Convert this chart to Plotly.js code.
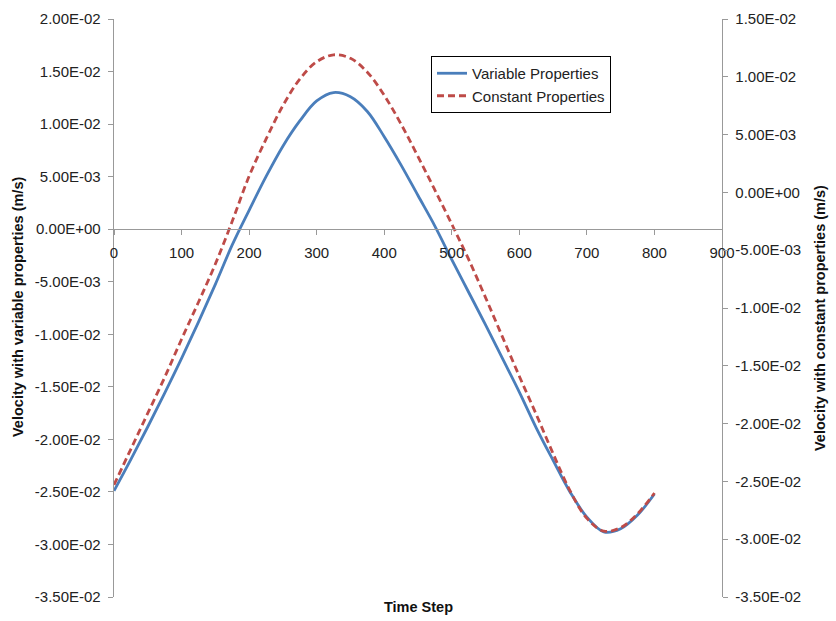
<!DOCTYPE html>
<html>
<head>
<meta charset="utf-8">
<script src="https://cdn.plot.ly/plotly-3.0.1.min.js"></script>
<style>html,body{margin:0;padding:0;background:#fff;}#chart{width:836px;height:621px;}</style>
</head>
<body>
<div id="chart"></div>
<script>
// Data
const timeStep = [0,25,50,75,100,125,150,175,200,225,250,275,300,325,350,375,400,425,450,475,500,525,550,575,600,625,650,675,700,725,750,775,800];
const variableProps = [-0.0249,-0.0219,-0.0188,-0.0156,-0.0123,-0.00885,-0.00525,-0.0015,0.0018,0.0050,0.0079,0.0103,0.0122,0.0130,0.0126,0.0112,0.0088,0.0061,0.0032,0.0003,-0.0029,-0.0060,-0.0091,-0.0123,-0.0155,-0.0189,-0.0220,-0.0250,-0.0274,-0.0288,-0.0285,-0.0272,-0.0252];
const constantProps = [-0.0253,-0.0222,-0.0191,-0.0160,-0.0127,-0.0095,-0.0062,-0.0025,0.0014,0.0046,0.0075,0.0098,0.0113,0.0119,0.0116,0.0104,0.0084,0.0059,0.0031,0.0002,-0.00275,-0.0058,-0.0091,-0.0125,-0.0159,-0.0192,-0.0226,-0.0258,-0.0282,-0.0293,-0.0290,-0.0278,-0.0260];
const xTicks = [0,100,200,300,400,500,600,700,800,900];
const leftTicks = [0.02,0.015,0.01,0.005,0,-0.005,-0.01,-0.015,-0.02,-0.025,-0.03,-0.035];
const rightTicks = [0.015,0.01,0.005,0,-0.005,-0.01,-0.015,-0.02,-0.025,-0.03,-0.035];
const seriesNames = ["Variable Properties","Constant Properties"];
const leftTitle = "Velocity with variable properties (m/s)";
const rightTitle = "Velocity with constant properties (m/s)";
const xTitle = "Time Step";

function excelSci(v){
  let s = Math.abs(v) < 1e-12 ? (0).toExponential(2) : v.toExponential(2);
  s = s.toUpperCase();
  return s.replace(/E([+-])(\d)$/, "E$10$2");
}

const leftRange = [-0.035, 0.02];
const rightRange = [-0.035, 0.015];
const zeroPos = (0 - leftRange[0]) / (leftRange[1] - leftRange[0]);

const FAM = "Liberation Sans, Arial, sans-serif";
const font = {family: FAM, size: 15, color: "#222"};
const titleFont = {family: FAM, size: 14.5, color: "#111"};
const axisColor = "#999";

const traces = [
  {x: timeStep, y: variableProps, name: seriesNames[0], type: "scatter", mode: "lines",
   line: {color: "#4A7EBB", width: 2.8, shape: "spline", smoothing: 1}, yaxis: "y"},
  {x: timeStep, y: constantProps, name: seriesNames[1], type: "scatter", mode: "lines",
   line: {color: "#BE4B48", width: 2.8, dash: "7px,4px", shape: "spline", smoothing: 1}, yaxis: "y2"}
];

const layout = {
  width: 836, height: 621,
  margin: {l: 114, r: 114, t: 19, b: 24},
  paper_bgcolor: "#fff", plot_bgcolor: "#fff",
  font: font,
  showlegend: true,
  legend: {x: (431-114)/608, y: 1-(56-19)/578, xanchor: "left", yanchor: "top",
    bordercolor: "#000", borderwidth: 1, bgcolor: "#fff",
    font: {family: FAM, size: 15, color: "#222"},
    tracegroupgap: 0, itemwidth: 30},
  xaxis: {range: [0, 900], tickvals: xTicks, ticktext: xTicks.map(String),
    anchor: "free", position: zeroPos, showline: true, linecolor: axisColor, linewidth: 1.3,
    ticks: "outside", ticklen: 5, tickcolor: axisColor, showgrid: false, zeroline: false,
    ticklabelstandoff: 5, tickfont: font},
  yaxis: {range: leftRange, tickvals: leftTicks, ticktext: leftTicks.map(excelSci),
    showline: true, linecolor: axisColor, linewidth: 1.3, ticks: "outside", ticklen: 5,
    tickcolor: axisColor, showgrid: false, zeroline: false, tickfont: font, ticklabelstandoff: 4},
  yaxis2: {range: rightRange, tickvals: rightTicks, ticktext: rightTicks.map(excelSci),
    overlaying: "y", side: "right", showline: true, linecolor: axisColor, linewidth: 1.3,
    ticks: "outside", ticklen: 5, tickcolor: axisColor, showgrid: false, zeroline: false,
    tickfont: font, ticklabelstandoff: 4},
  annotations: [
    {text: "<b>" + leftTitle + "</b>", xref: "paper", yref: "paper",
     x: (18-114)/608, y: 1-(307-19)/578, textangle: -90, showarrow: false,
     xanchor: "center", yanchor: "middle", font: titleFont},
    {text: "<b>" + rightTitle + "</b>", xref: "paper", yref: "paper",
     x: (820-114)/608, y: 1-(318-19)/578, textangle: -90, showarrow: false,
     xanchor: "center", yanchor: "middle", font: titleFont},
    {text: "<b>" + xTitle + "</b>", xref: "paper", yref: "paper",
     x: (418-114)/608, y: 1-(607-19)/578, showarrow: false,
     xanchor: "center", yanchor: "middle", font: titleFont}
  ]
};

Plotly.newPlot("chart", traces, layout, {displayModeBar: false, staticPlot: true});
</script>
</body>
</html>
